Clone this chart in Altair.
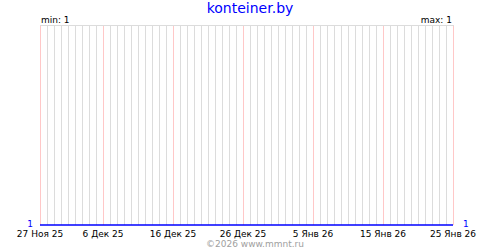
import altair as alt
import pandas as pd

# ---- data ----
start_date = "2025-11-27"
end_date = "2026-01-25"
values = [1, 1, 1, 1, 1, 1, 1, 1, 1, 1,
          1, 1, 1, 1, 1, 1, 1, 1, 1, 1,
          1, 1, 1, 1, 1, 1, 1, 1, 1, 1,
          1, 1, 1, 1, 1, 1, 1, 1, 1, 1,
          1, 1, 1, 1, 1, 1, 1, 1, 1, 1,
          1, 1, 1, 1, 1, 1, 1, 1, 1, 1]
label_dates = ["2025-11-27", "2025-12-06", "2025-12-16", "2025-12-26",
               "2026-01-05", "2026-01-15", "2026-01-25"]
label_texts = ["27 Ноя 25", "6 Дек 25", "16 Дек 25", "26 Дек 25",
               "5 Янв 26", "15 Янв 26", "25 Янв 26"]
title_text = "konteiner.by"
min_text = "min: 1"
max_text = "max: 1"
left_val = "1"
right_val = "1"
footer_text = "©2026 www.mmnt.ru"

days = pd.date_range(start_date, end_date, freq="D")
n = len(days)
W, H = 413, 200
FONT = "DejaVu Sans"

label_idx = [int((pd.Timestamp(d) - days[0]).days) for d in label_dates]
df = pd.DataFrame({"i": range(n), "value": values[:n]})
minor = df[~df["i"].isin(label_idx)][["i"]]
major = df[df["i"].isin(label_idx)][["i"]]
labels = pd.DataFrame({"i": label_idx, "text": label_texts})

xscale = alt.Scale(domain=[0, n - 1], nice=False, zero=False)
X = alt.X("i:Q", scale=xscale, axis=None)

grid_minor = alt.Chart(minor).mark_rule(strokeWidth=1, color="#dcdcdc", xOffset=0.5).encode(
    x=X, y=alt.value(0), y2=alt.value(H)
)
grid_major = alt.Chart(major).mark_rule(strokeWidth=1, color="#ffc8c8", xOffset=0.5).encode(
    x=X, y=alt.value(0), y2=alt.value(H)
)

top = alt.Chart(df).mark_rule(color="#dcdcdc", strokeWidth=1, yOffset=0.5).encode(
    x=alt.value(0), x2=alt.value(W + 1), y=alt.value(0)
)

line = alt.Chart(df).mark_line(color="#0000ff", strokeWidth=1.5).encode(
    x=X,
    y=alt.Y("value:Q", scale=alt.Scale(domain=[1, 2], nice=False, zero=False), axis=None),
)

xlabels = alt.Chart(labels).mark_text(font=FONT, fontSize=9, color="#000000",
                                      align="center", baseline="alphabetic").encode(
    x=X, y=alt.value(H + 12), text="text:N"
)

def txt(s, x, y, color="#000000", size=9, align="left", baseline="alphabetic"):
    return alt.Chart(pd.DataFrame({"t": [s]})).mark_text(
        font=FONT, fontSize=size, color=color, align=align, baseline=baseline
    ).encode(x=alt.value(x), y=alt.value(y), text="t:N")

title = txt(title_text, 210, -12, color="#0000ff", size=14, align="center")
mn = txt(min_text, 1, -2)
mx = txt(max_text, W - 1, -2, align="right")
lv = txt(left_val, -7, H + 2, color="#0000ff", align="right")
rv = txt(right_val, W + 10, H + 2, color="#0000ff", align="left")
foot = txt(footer_text, 215, H + 22, color="#a0a0a0", align="center")

chart = alt.layer(grid_minor, grid_major, top, line, xlabels, title, mn, mx, lv, rv, foot).properties(
    width=W, height=H,
    autosize=alt.AutoSizeParams(type="none"),
    padding={"left": 40, "top": 25, "right": 47, "bottom": 25},
    background="#ffffff",
).configure_view(strokeWidth=0)

chart.save("out.html", embed_options={"renderer": "svg", "actions": False})
